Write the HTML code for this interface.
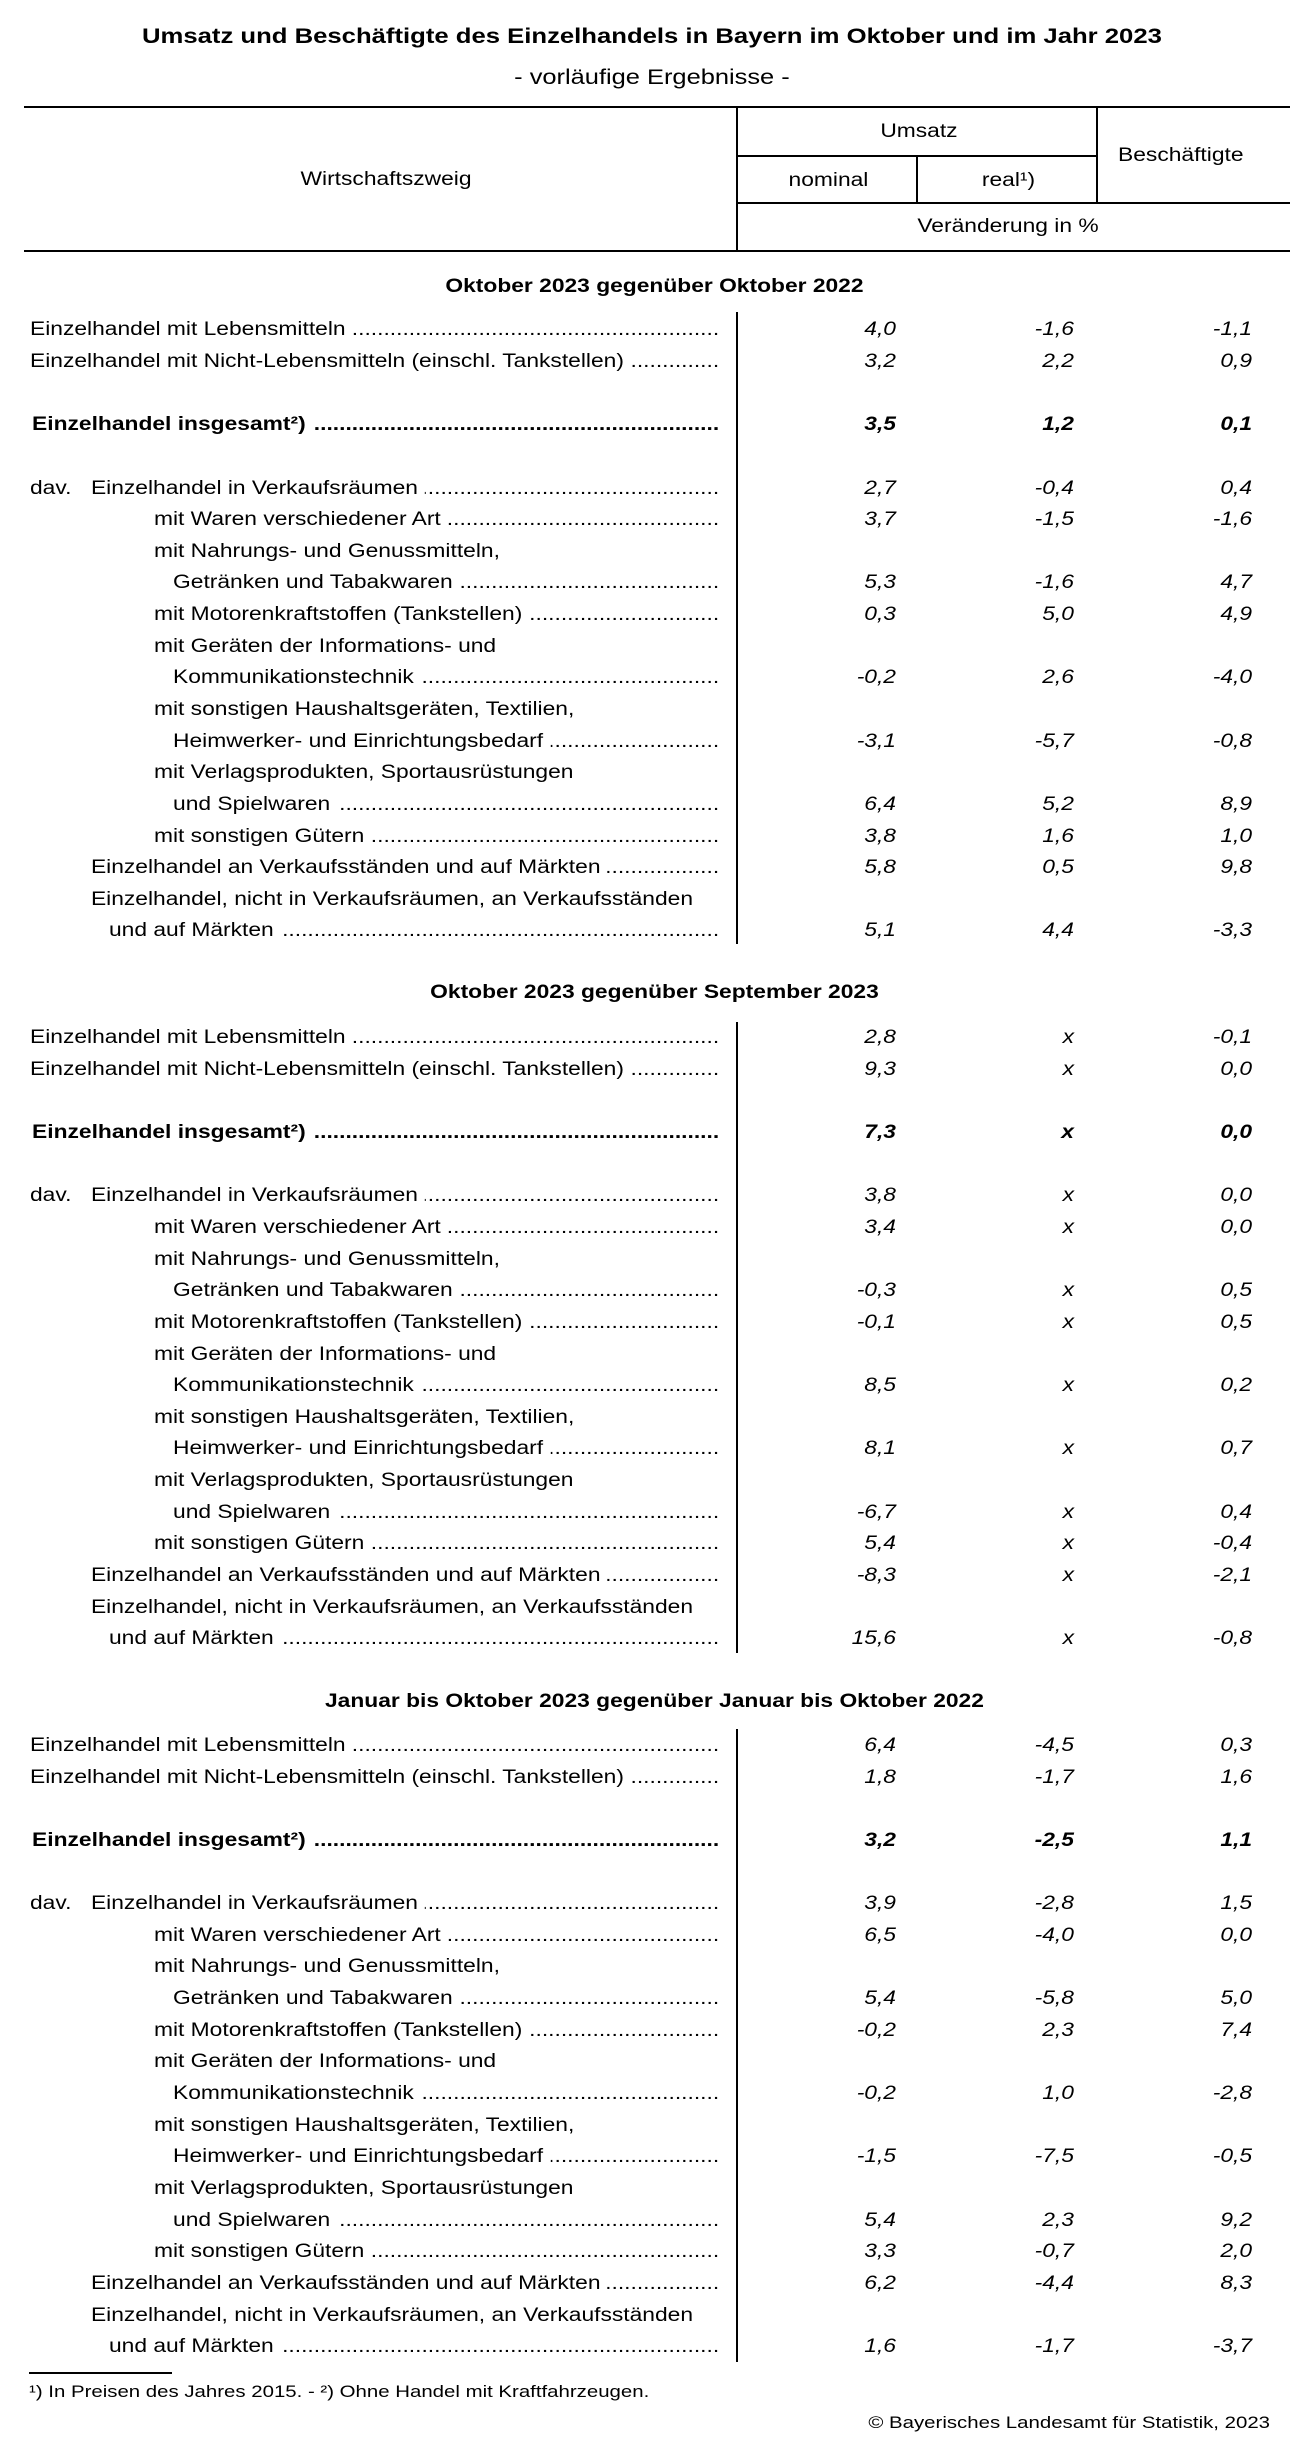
<!DOCTYPE html>
<html><head><meta charset="utf-8"><style>
body{margin:0;background:#fff}
#p{position:relative;width:1292px;height:2443px;overflow:hidden;background:#fff}
.k{position:absolute;background:#000}
#w{position:absolute;left:0;top:0;width:1076.67px;height:2443px;transform:scaleX(1.2);transform-origin:0 0;font-family:"Liberation Sans",Arial,sans-serif;color:#000;font-size:19px}
.t{position:absolute;white-space:nowrap;line-height:1}
.c{position:absolute;width:1000px;margin-left:-500px;text-align:center;white-space:nowrap;line-height:1}
.sec{position:absolute;left:0;width:1076.67px}
.r{position:relative;height:31.65px;line-height:31.65px;white-space:nowrap}
.l{position:absolute;top:0;right:477.5px;display:flex;white-space:nowrap}
.l>span:first-child{flex:none}
.d{flex:1 1 0;min-width:0;overflow:hidden;direction:rtl;margin-left:6px}
.n{position:absolute;top:0;font-style:italic}
.a{right:330px}.b{right:181.7px}.e{right:33.3px}
.B{font-weight:bold}
.l0{left:25px}.lb{left:26.7px}.l1{left:75.8px}.l1b{left:90.8px}.l2{left:128.3px}.l3{left:144.2px}
.dv{position:absolute;left:25px;top:0}
</style></head><body><div id="p">
<div class="k" style="left:24px;top:106px;width:1266px;height:2px"></div>
<div class="k" style="left:24px;top:250px;width:1266px;height:2px"></div>
<div class="k" style="left:736px;top:107px;width:2px;height:144px"></div>
<div class="k" style="left:1096px;top:107px;width:2px;height:96px"></div>
<div class="k" style="left:737px;top:155px;width:360px;height:2px"></div>
<div class="k" style="left:916px;top:156px;width:2px;height:47px"></div>
<div class="k" style="left:737px;top:202px;width:553px;height:2px"></div>
<div class="k" style="left:736px;top:312px;width:2px;height:632px"></div>
<div class="k" style="left:736px;top:1022px;width:2px;height:631px"></div>
<div class="k" style="left:736px;top:1729px;width:2px;height:633px"></div>
<div class="k" style="left:29px;top:2372px;width:143px;height:1.5px"></div>

<div id="w">
<div class="c B" style="left:543.3px;top:26.2px;font-size:21.4px">Umsatz und Beschäftigte des Einzelhandels in Bayern im Oktober und im Jahr 2023</div>
<div class="c" style="left:543.3px;top:67.3px;font-size:21.2px">- vorläufige Ergebnisse -</div>

<div class="c" style="left:321.7px;top:169.9px">Wirtschaftszweig</div>
<div class="c" style="left:765.8px;top:122.2px">Umsatz</div>
<div class="c" style="left:690.4px;top:170.6px">nominal</div>
<div class="c" style="left:840.4px;top:170.6px">real¹)</div>
<div class="c" style="left:984px;top:145.6px">Beschäftigte</div>
<div class="c" style="left:840px;top:217.2px">Veränderung in %</div>

<div class="c B" style="left:545.4px;top:276.6px">Oktober 2023 gegenüber Oktober 2022</div>
<div class="c B" style="left:545.4px;top:983.4px">Oktober 2023 gegenüber September 2023</div>
<div class="c B" style="left:545.4px;top:1692.4px">Januar bis Oktober 2023 gegenüber Januar bis Oktober 2022</div>

<div class="sec" style="top:314.3px">
<div class="r"><div class="l l0"><span>Einzelhandel mit Lebensmitteln</span><span class="d">..............................................................................................................</span></div><i class="n a">4,0</i><i class="n b">-1,6</i><i class="n e">-1,1</i></div>
<div class="r"><div class="l l0"><span>Einzelhandel mit Nicht-Lebensmitteln (einschl. Tankstellen)</span><span class="d">..............................................................................................................</span></div><i class="n a">3,2</i><i class="n b">2,2</i><i class="n e">0,9</i></div>
<div class="r"></div>
<div class="r B"><div class="l lb"><span>Einzelhandel insgesamt²)</span><span class="d">..............................................................................................................</span></div><i class="n a">3,5</i><i class="n b">1,2</i><i class="n e">0,1</i></div>
<div class="r"></div>
<div class="r"><span class="dv">dav.</span><div class="l l1"><span>Einzelhandel in Verkaufsräumen</span><span class="d">..............................................................................................................</span></div><i class="n a">2,7</i><i class="n b">-0,4</i><i class="n e">0,4</i></div>
<div class="r"><div class="l l2"><span>mit Waren verschiedener Art</span><span class="d">..............................................................................................................</span></div><i class="n a">3,7</i><i class="n b">-1,5</i><i class="n e">-1,6</i></div>
<div class="r"><div class="l l2"><span>mit Nahrungs- und Genussmitteln,</span></div></div>
<div class="r"><div class="l l3"><span>Getränken und Tabakwaren</span><span class="d">..............................................................................................................</span></div><i class="n a">5,3</i><i class="n b">-1,6</i><i class="n e">4,7</i></div>
<div class="r"><div class="l l2"><span>mit Motorenkraftstoffen (Tankstellen)</span><span class="d">..............................................................................................................</span></div><i class="n a">0,3</i><i class="n b">5,0</i><i class="n e">4,9</i></div>
<div class="r"><div class="l l2"><span>mit Geräten der Informations- und</span></div></div>
<div class="r"><div class="l l3"><span>Kommunikationstechnik</span><span class="d">..............................................................................................................</span></div><i class="n a">-0,2</i><i class="n b">2,6</i><i class="n e">-4,0</i></div>
<div class="r"><div class="l l2"><span>mit sonstigen Haushaltsgeräten, Textilien,</span></div></div>
<div class="r"><div class="l l3"><span>Heimwerker- und Einrichtungsbedarf</span><span class="d">..............................................................................................................</span></div><i class="n a">-3,1</i><i class="n b">-5,7</i><i class="n e">-0,8</i></div>
<div class="r"><div class="l l2"><span>mit Verlagsprodukten, Sportausrüstungen</span></div></div>
<div class="r"><div class="l l3"><span>und Spielwaren</span><span class="d">..............................................................................................................</span></div><i class="n a">6,4</i><i class="n b">5,2</i><i class="n e">8,9</i></div>
<div class="r"><div class="l l2"><span>mit sonstigen Gütern</span><span class="d">..............................................................................................................</span></div><i class="n a">3,8</i><i class="n b">1,6</i><i class="n e">1,0</i></div>
<div class="r"><div class="l l1"><span>Einzelhandel an Verkaufsständen und auf Märkten</span><span class="d">..............................................................................................................</span></div><i class="n a">5,8</i><i class="n b">0,5</i><i class="n e">9,8</i></div>
<div class="r"><div class="l l1"><span>Einzelhandel, nicht in Verkaufsräumen, an Verkaufsständen</span></div></div>
<div class="r"><div class="l l1b"><span>und auf Märkten</span><span class="d">..............................................................................................................</span></div><i class="n a">5,1</i><i class="n b">4,4</i><i class="n e">-3,3</i></div>
</div>

<div class="sec" style="top:1022.1px">
<div class="r"><div class="l l0"><span>Einzelhandel mit Lebensmitteln</span><span class="d">..............................................................................................................</span></div><i class="n a">2,8</i><i class="n b">x</i><i class="n e">-0,1</i></div>
<div class="r"><div class="l l0"><span>Einzelhandel mit Nicht-Lebensmitteln (einschl. Tankstellen)</span><span class="d">..............................................................................................................</span></div><i class="n a">9,3</i><i class="n b">x</i><i class="n e">0,0</i></div>
<div class="r"></div>
<div class="r B"><div class="l lb"><span>Einzelhandel insgesamt²)</span><span class="d">..............................................................................................................</span></div><i class="n a">7,3</i><i class="n b">x</i><i class="n e">0,0</i></div>
<div class="r"></div>
<div class="r"><span class="dv">dav.</span><div class="l l1"><span>Einzelhandel in Verkaufsräumen</span><span class="d">..............................................................................................................</span></div><i class="n a">3,8</i><i class="n b">x</i><i class="n e">0,0</i></div>
<div class="r"><div class="l l2"><span>mit Waren verschiedener Art</span><span class="d">..............................................................................................................</span></div><i class="n a">3,4</i><i class="n b">x</i><i class="n e">0,0</i></div>
<div class="r"><div class="l l2"><span>mit Nahrungs- und Genussmitteln,</span></div></div>
<div class="r"><div class="l l3"><span>Getränken und Tabakwaren</span><span class="d">..............................................................................................................</span></div><i class="n a">-0,3</i><i class="n b">x</i><i class="n e">0,5</i></div>
<div class="r"><div class="l l2"><span>mit Motorenkraftstoffen (Tankstellen)</span><span class="d">..............................................................................................................</span></div><i class="n a">-0,1</i><i class="n b">x</i><i class="n e">0,5</i></div>
<div class="r"><div class="l l2"><span>mit Geräten der Informations- und</span></div></div>
<div class="r"><div class="l l3"><span>Kommunikationstechnik</span><span class="d">..............................................................................................................</span></div><i class="n a">8,5</i><i class="n b">x</i><i class="n e">0,2</i></div>
<div class="r"><div class="l l2"><span>mit sonstigen Haushaltsgeräten, Textilien,</span></div></div>
<div class="r"><div class="l l3"><span>Heimwerker- und Einrichtungsbedarf</span><span class="d">..............................................................................................................</span></div><i class="n a">8,1</i><i class="n b">x</i><i class="n e">0,7</i></div>
<div class="r"><div class="l l2"><span>mit Verlagsprodukten, Sportausrüstungen</span></div></div>
<div class="r"><div class="l l3"><span>und Spielwaren</span><span class="d">..............................................................................................................</span></div><i class="n a">-6,7</i><i class="n b">x</i><i class="n e">0,4</i></div>
<div class="r"><div class="l l2"><span>mit sonstigen Gütern</span><span class="d">..............................................................................................................</span></div><i class="n a">5,4</i><i class="n b">x</i><i class="n e">-0,4</i></div>
<div class="r"><div class="l l1"><span>Einzelhandel an Verkaufsständen und auf Märkten</span><span class="d">..............................................................................................................</span></div><i class="n a">-8,3</i><i class="n b">x</i><i class="n e">-2,1</i></div>
<div class="r"><div class="l l1"><span>Einzelhandel, nicht in Verkaufsräumen, an Verkaufsständen</span></div></div>
<div class="r"><div class="l l1b"><span>und auf Märkten</span><span class="d">..............................................................................................................</span></div><i class="n a">15,6</i><i class="n b">x</i><i class="n e">-0,8</i></div>
</div>

<div class="sec" style="top:1730px">
<div class="r"><div class="l l0"><span>Einzelhandel mit Lebensmitteln</span><span class="d">..............................................................................................................</span></div><i class="n a">6,4</i><i class="n b">-4,5</i><i class="n e">0,3</i></div>
<div class="r"><div class="l l0"><span>Einzelhandel mit Nicht-Lebensmitteln (einschl. Tankstellen)</span><span class="d">..............................................................................................................</span></div><i class="n a">1,8</i><i class="n b">-1,7</i><i class="n e">1,6</i></div>
<div class="r"></div>
<div class="r B"><div class="l lb"><span>Einzelhandel insgesamt²)</span><span class="d">..............................................................................................................</span></div><i class="n a">3,2</i><i class="n b">-2,5</i><i class="n e">1,1</i></div>
<div class="r"></div>
<div class="r"><span class="dv">dav.</span><div class="l l1"><span>Einzelhandel in Verkaufsräumen</span><span class="d">..............................................................................................................</span></div><i class="n a">3,9</i><i class="n b">-2,8</i><i class="n e">1,5</i></div>
<div class="r"><div class="l l2"><span>mit Waren verschiedener Art</span><span class="d">..............................................................................................................</span></div><i class="n a">6,5</i><i class="n b">-4,0</i><i class="n e">0,0</i></div>
<div class="r"><div class="l l2"><span>mit Nahrungs- und Genussmitteln,</span></div></div>
<div class="r"><div class="l l3"><span>Getränken und Tabakwaren</span><span class="d">..............................................................................................................</span></div><i class="n a">5,4</i><i class="n b">-5,8</i><i class="n e">5,0</i></div>
<div class="r"><div class="l l2"><span>mit Motorenkraftstoffen (Tankstellen)</span><span class="d">..............................................................................................................</span></div><i class="n a">-0,2</i><i class="n b">2,3</i><i class="n e">7,4</i></div>
<div class="r"><div class="l l2"><span>mit Geräten der Informations- und</span></div></div>
<div class="r"><div class="l l3"><span>Kommunikationstechnik</span><span class="d">..............................................................................................................</span></div><i class="n a">-0,2</i><i class="n b">1,0</i><i class="n e">-2,8</i></div>
<div class="r"><div class="l l2"><span>mit sonstigen Haushaltsgeräten, Textilien,</span></div></div>
<div class="r"><div class="l l3"><span>Heimwerker- und Einrichtungsbedarf</span><span class="d">..............................................................................................................</span></div><i class="n a">-1,5</i><i class="n b">-7,5</i><i class="n e">-0,5</i></div>
<div class="r"><div class="l l2"><span>mit Verlagsprodukten, Sportausrüstungen</span></div></div>
<div class="r"><div class="l l3"><span>und Spielwaren</span><span class="d">..............................................................................................................</span></div><i class="n a">5,4</i><i class="n b">2,3</i><i class="n e">9,2</i></div>
<div class="r"><div class="l l2"><span>mit sonstigen Gütern</span><span class="d">..............................................................................................................</span></div><i class="n a">3,3</i><i class="n b">-0,7</i><i class="n e">2,0</i></div>
<div class="r"><div class="l l1"><span>Einzelhandel an Verkaufsständen und auf Märkten</span><span class="d">..............................................................................................................</span></div><i class="n a">6,2</i><i class="n b">-4,4</i><i class="n e">8,3</i></div>
<div class="r"><div class="l l1"><span>Einzelhandel, nicht in Verkaufsräumen, an Verkaufsständen</span></div></div>
<div class="r"><div class="l l1b"><span>und auf Märkten</span><span class="d">..............................................................................................................</span></div><i class="n a">1,6</i><i class="n b">-1,7</i><i class="n e">-3,7</i></div>
</div>

<div class="t" style="left:24.2px;top:2382.6px;font-size:17px">¹) In Preisen des Jahres 2015. - ²) Ohne Handel mit Kraftfahrzeugen.</div>
<div class="t" style="right:18.3px;top:2413.6px;font-size:17px">© Bayerisches Landesamt für Statistik, 2023</div>
</div>
</div></body></html>
